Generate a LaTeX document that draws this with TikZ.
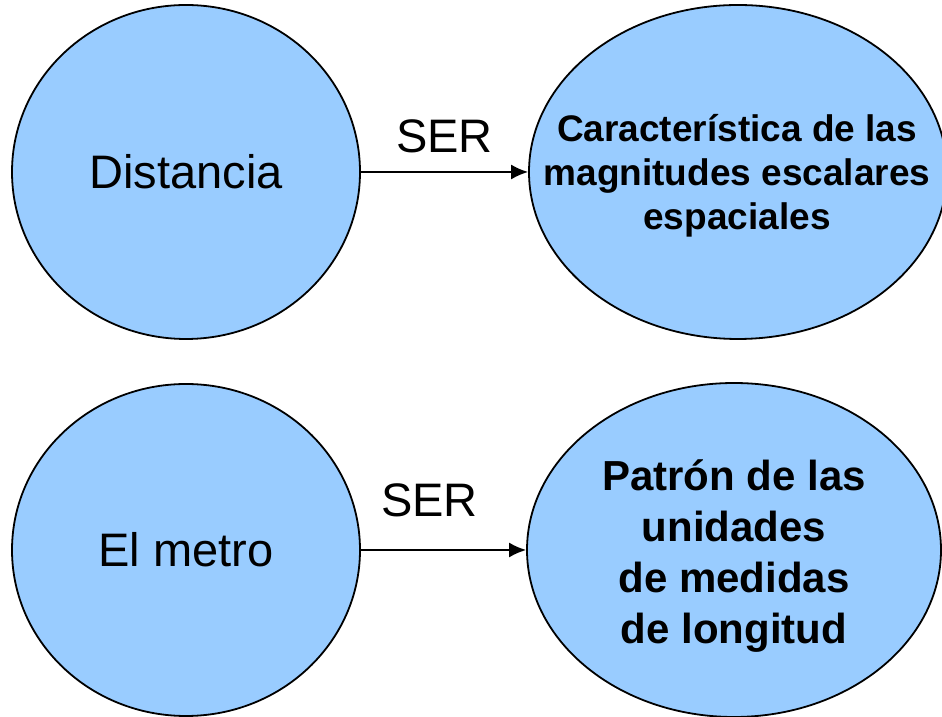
\documentclass[tikz,border=0pt]{standalone}
\usepackage{fontspec}
\setmainfont{Liberation Sans}
\usepackage{tikz}
\usetikzlibrary{arrows.meta,shapes.geometric,positioning}
\definecolor{celeste}{RGB}{153,204,255}

\begin{document}
\begin{tikzpicture}[x=1pt,y=1pt,
  globo/.style={ellipse,draw=black,line width=1.8pt,fill=celeste,inner sep=0pt,
    font=\fontsize{47}{56}\selectfont},
  negrita/.style={align=center,inner sep=0pt},
  flecha/.style={line width=1.8pt,-{Latex[length=17pt,width=15pt]}},
  rotulo/.style={font=\fontsize{47}{56}\selectfont,inner sep=0pt}]
\useasboundingbox (0,0) rectangle (942,717);
% fila de arriba
\node[globo,minimum width=348pt,minimum height=334pt] (dist) at (186,545) {Distancia};
\node[globo,minimum width=418pt,minimum height=334pt] (carac) at (738,545) {};
\node[negrita,font=\fontsize{37}{44}\selectfont\bfseries] (caractxt) at (737,541)
  {Característica de las\\magnitudes escalares\\espaciales};
\draw[flecha] (dist) -- (carac) node[rotulo,midway,yshift=36pt] (ser1) {SER};
% fila de abajo
\node[globo,minimum width=348pt,minimum height=332pt] (metro) at (186,167) {El metro};
\node[globo,minimum width=414pt,minimum height=334pt] (patron) at (734,167) {};
\node[negrita,font=\fontsize{42}{51}\selectfont\bfseries] (patrontxt) at (734,161)
  {Patrón de las\\unidades\\de medidas\\de longitud};
\draw[flecha] (metro) -- (patron) node[rotulo,midway,xshift=-14pt,yshift=50pt] (ser2) {SER};
\end{tikzpicture}
\end{document}
